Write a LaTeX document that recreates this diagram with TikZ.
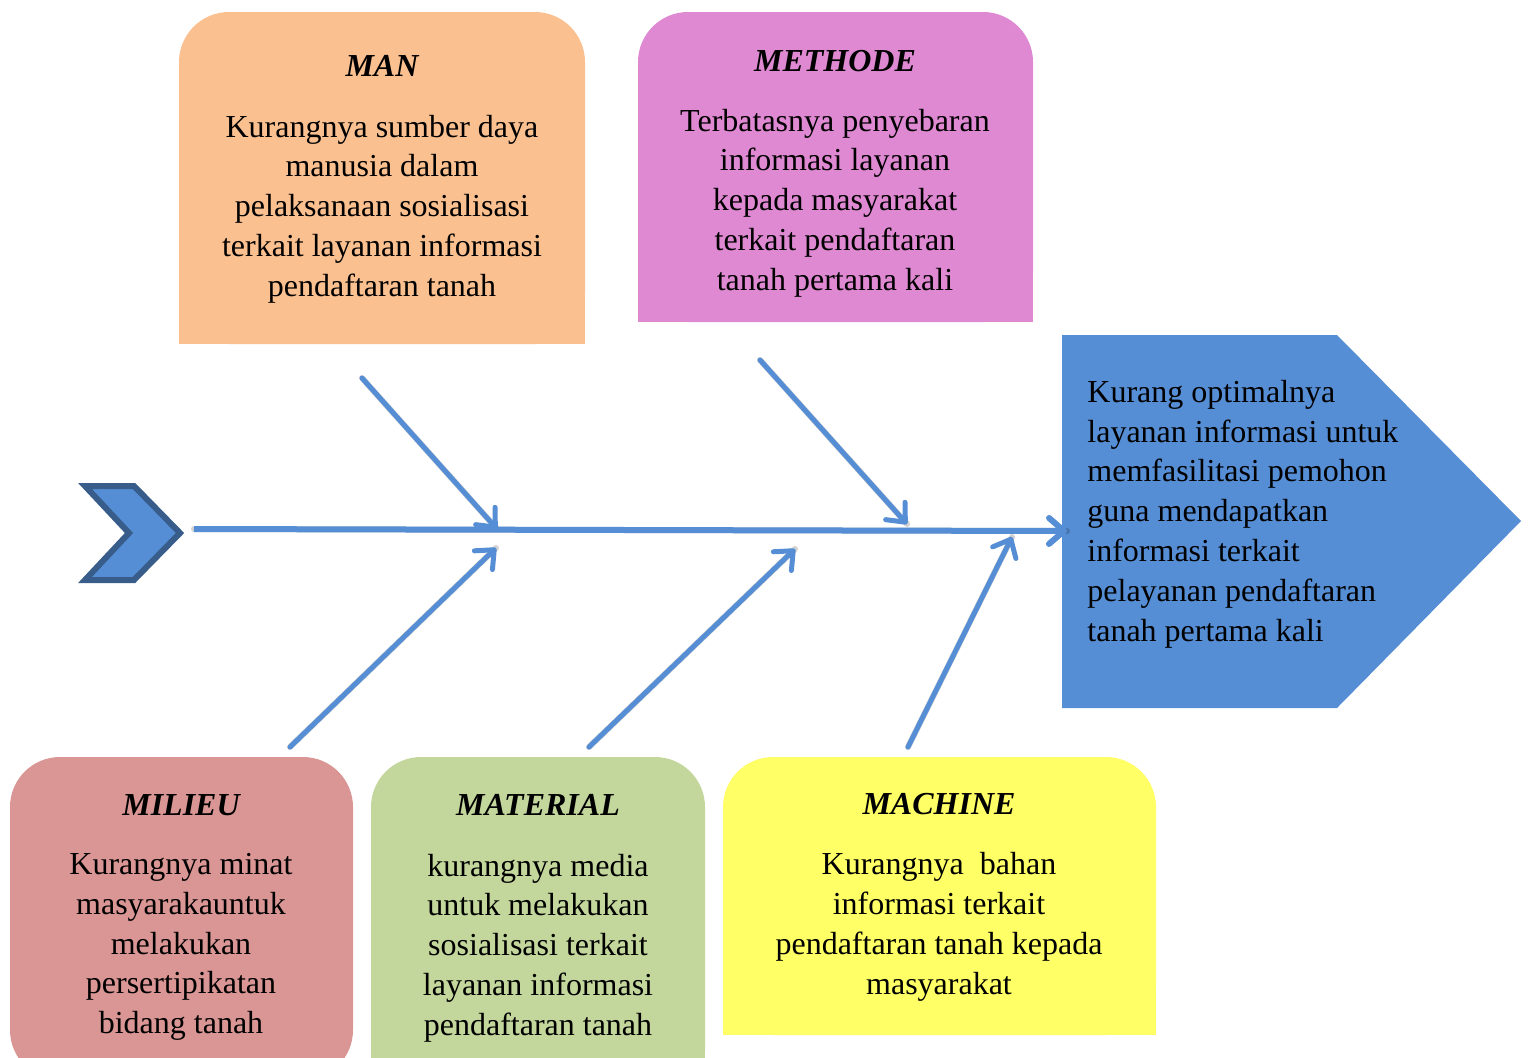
\documentclass[tikz,border=0pt]{standalone}
\usepackage{fontspec}
\setmainfont{Liberation Serif}
\usetikzlibrary{arrows.meta}
\definecolor{manc}{HTML}{FAC090}
\definecolor{metc}{HTML}{DF89D3}
\definecolor{milc}{HTML}{D99694}
\definecolor{matc}{HTML}{C3D69B}
\definecolor{macc}{HTML}{FFFF66}
\definecolor{bluec}{HTML}{558ED5}
\definecolor{darkbluec}{HTML}{385D8A}
\tikzset{
  x=0.5pt, y=-0.5pt,
  boxtitle/.style={font=\fontsize{16}{19.9}\selectfont\bfseries\itshape, inner sep=0pt},
  boxtext/.style={font=\fontsize{16}{19.9}\selectfont, align=center, inner sep=0pt},
  bone/.style={draw=bluec, line width=2.5pt, line cap=round, -{Straight Barb[length=7.5pt,width=13pt,line cap=round,line join=round]}},
  spine/.style={draw=bluec, line width=3pt, -{Straight Barb[length=7.5pt,width=13pt,line cap=round,line join=round]}},
  shadowline/.style={draw=black, opacity=0.18, line width=3pt, line cap=round},
}
\begin{document}
\begin{tikzpicture}
\useasboundingbox (0,0) rectangle (1531,1057);
\clip (0,0) rectangle (1531,1057);

% boxes
\fill[manc, rounded corners=25pt] (179,12) rectangle (585,344);
\fill[manc] (179,200) rectangle (585,344);
\fill[metc, rounded corners=25pt] (638,12) rectangle (1033,322);
\fill[metc] (638,200) rectangle (1033,322);
\fill[milc, rounded corners=25pt] (10,757) rectangle (353,1080);
\fill[matc, rounded corners=25pt] (371,757) rectangle (705,1100);
\fill[matc] (371,900) rectangle (705,1100);
\fill[macc, rounded corners=25pt] (723,757) rectangle (1156,1035);
\fill[macc] (723,900) rectangle (1156,1035);

% effect pentagon
\fill[bluec] (1062,335) -- (1337,335) -- (1521,521) -- (1337,708) -- (1062,708) -- cycle;

% chevron
\filldraw[fill=bluec, draw=darkbluec, line width=3pt, line join=miter]
  (85,486) -- (134,486) -- (180,533) -- (134,580) -- (85,580) -- (129,533) -- cycle;

% coordinates
\coordinate (s0) at (194,529);
\coordinate (s1) at (1067,531);
\coordinate (manA) at (362,378);  \coordinate (manB) at (497,529);
\coordinate (metA) at (760,360);  \coordinate (metB) at (907,524);
\coordinate (milA) at (290,747);  \coordinate (milB) at (496,548);
\coordinate (matA) at (589,747);  \coordinate (matB) at (795,549);
\coordinate (macA) at (908,747);  \coordinate (macB) at (1012,537);

% shadows
\begin{scope}[shift={(2,5)}]
\draw[shadowline] (s0) -- (s1);
\draw[shadowline] (manA) -- (manB);
\draw[shadowline] (metA) -- (metB);
\draw[shadowline] (milA) -- (milB);
\draw[shadowline] (matA) -- (matB);
\draw[shadowline] (macA) -- (macB);
\end{scope}

% spine and bones
\draw[spine] (s0) -- (s1);
\draw[bone] (manA) -- (manB);
\draw[bone] (metA) -- (metB);
\draw[bone] (milA) -- (milB);
\draw[bone] (matA) -- (matB);
\draw[bone] (macA) -- (macB);

% texts
\node[boxtitle] (manT) at (382,66) {MAN};
\node[boxtext] (manX) at (382,209) {Kurangnya sumber daya\\manusia dalam\\pelaksanaan sosialisasi\\terkait layanan informasi\\pendaftaran tanah};

\node[boxtitle] (metT) at (835,61) {METHODE};
\node[boxtext] (metX) at (835,203) {Terbatasnya penyebaran\\informasi layanan\\kepada masyarakat\\terkait pendaftaran\\tanah pertama kali};

\node[boxtitle] (milT) at (181,805) {MILIEU};
\node[boxtext] (milX) at (181,947) {Kurangnya minat\\masyarakauntuk\\melakukan\\persertipikatan\\bidang tanah};

\node[boxtitle] (matT) at (538,805) {MATERIAL};
\node[boxtext] (matX) at (538,948) {kurangnya media\\untuk melakukan\\sosialisasi terkait\\layanan informasi\\pendaftaran tanah};

\node[boxtitle] (macT) at (939,804) {MACHINE};
\node[boxtext] (macX) at (939,927) {Kurangnya\ \ bahan\\informasi terkait\\pendaftaran tanah kepada\\masyarakat};

\node[boxtext, align=left, anchor=west] (effX) at (1087,514) {Kurang optimalnya\\layanan informasi untuk\\memfasilitasi pemohon\\guna mendapatkan\\informasi terkait\\pelayanan pendaftaran\\tanah pertama kali};
\end{tikzpicture}
\end{document}
